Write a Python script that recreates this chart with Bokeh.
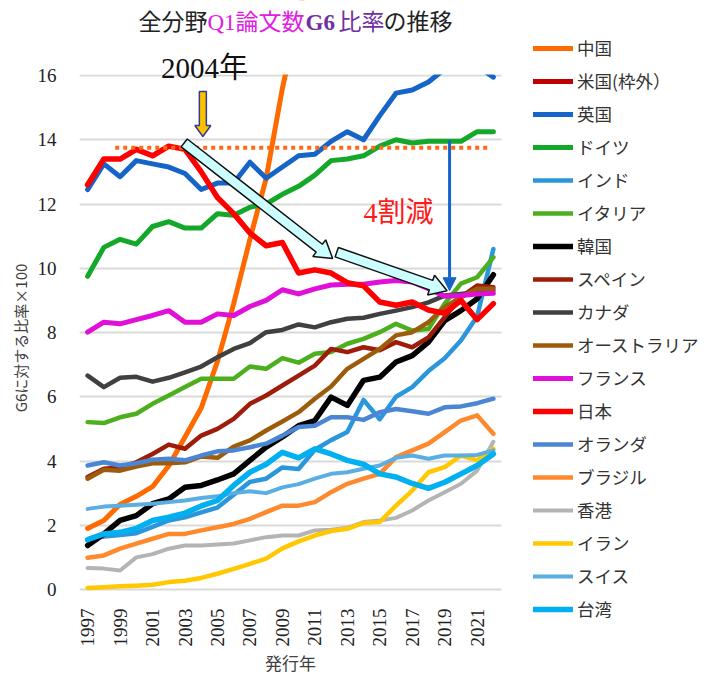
import math
from bokeh.plotting import figure
from bokeh.models import (Range1d, FixedTicker, Legend, LegendItem, Label, Arrow,
                          NormalHead, ColumnDataSource)
from bokeh.embed import file_html
from bokeh.resources import INLINE

NAN = float("nan")

years = list(range(1997, 2023))
tick_years = list(range(1997, 2022, 2))
y_ticks = list(range(0, 17, 2))

china = [1.9, 2.15, 2.65, 2.9, 3.2, 3.85, 4.75, 5.65, 7.1, 8.9, 10.9, 12.8, 15.6,
         17.9, 20.0, 22.5, 25.0, 27.5, 30.5, 33.5, 37.0, 41.0, 46.0, 51.0, 56.0, 60.0]
usa = [NAN] * len(years)  # 枠外 (off the chart)
uk = [12.45, 13.25, 12.85, 13.35, 13.25, 13.15, 12.95, 12.45, 12.65, 12.65, 13.3, 12.8, 13.15,
      13.5, 13.55, 13.95, 14.25, 14.0, 14.75, 15.45, 15.55, 15.8, 16.2, 16.35, 16.3, 15.95]
germany = [9.75, 10.65, 10.9, 10.75, 11.3, 11.45, 11.25, 11.25, 11.7, 11.65, 11.9, 12.0, 12.3,
           12.55, 12.9, 13.35, 13.4, 13.5, 13.8, 14.0, 13.9, 13.95, 13.95, 13.95, 14.25, 14.25]
india = [1.55, 1.65, 1.7, 1.75, 1.95, 2.15, 2.25, 2.4, 2.55, 2.95, 3.35, 3.45, 3.8,
         3.75, 4.35, 4.65, 4.9, 5.9, 5.3, 6.0, 6.3, 6.8, 7.2, 7.75, 8.5, 10.6]
italy = [5.21, 5.18, 5.36, 5.47, 5.78, 6.04, 6.3, 6.56, 6.56, 6.56, 6.94, 6.87, 7.2,
         7.06, 7.34, 7.39, 7.65, 7.8, 8.01, 8.27, 8.06, 8.11, 8.9, 9.52, 9.72, 10.34]
korea = [1.37, 1.73, 2.15, 2.3, 2.67, 2.82, 3.18, 3.24, 3.41, 3.6, 4.02, 4.43, 4.75,
         5.1, 5.26, 5.99, 5.73, 6.51, 6.61, 7.08, 7.28, 7.7, 8.37, 8.68, 9.05, 9.8]
spain = [3.5, 3.76, 3.8, 3.96, 4.22, 4.51, 4.38, 4.79, 5.0, 5.31, 5.78, 6.04, 6.35,
         6.66, 6.97, 7.49, 7.39, 7.54, 7.45, 7.7, 7.54, 7.85, 8.48, 9.1, 9.46, 9.41]
canada = [6.66, 6.3, 6.59, 6.62, 6.47, 6.59, 6.76, 6.94, 7.23, 7.49, 7.67, 8.01, 8.08,
          8.25, 8.16, 8.32, 8.43, 8.46, 8.58, 8.68, 8.79, 8.94, 9.15, 9.2, 9.26, 9.31]
australia = [3.45, 3.73, 3.7, 3.83, 3.93, 3.93, 3.96, 4.14, 4.1, 4.45, 4.64, 4.95, 5.23,
             5.52, 5.94, 6.32, 6.87, 7.18, 7.49, 7.91, 8.01, 8.32, 8.79, 9.1, 9.36, 9.36]
france = [8.01, 8.32, 8.27, 8.4, 8.53, 8.68, 8.32, 8.32, 8.58, 8.53, 8.81, 9.0, 9.33,
          9.2, 9.36, 9.48, 9.5, 9.5, 9.57, 9.62, 9.57, 9.36, 9.13, 9.15, 9.2, 9.22]
japan = [12.6, 13.4, 13.4, 13.7, 13.5, 13.8, 13.7, 13.0, 12.2, 11.7, 11.1, 10.7, 10.8,
         9.85, 9.95, 9.85, 9.55, 9.45, 8.95, 8.85, 8.95, 8.7, 8.6, 9.0, 8.4, 8.9]
netherlands = [3.86, 3.96, 3.86, 3.93, 4.04, 4.07, 4.02, 4.17, 4.3, 4.33, 4.43, 4.54, 4.79,
               5.06, 5.1, 5.36, 5.36, 5.28, 5.52, 5.62, 5.55, 5.47, 5.67, 5.7, 5.8, 5.94]
brazil = [0.99, 1.06, 1.27, 1.43, 1.58, 1.73, 1.73, 1.84, 1.94, 2.04, 2.2, 2.41, 2.61,
          2.61, 2.72, 3.03, 3.29, 3.45, 3.6, 4.12, 4.33, 4.54, 4.9, 5.26, 5.42, 4.85]
hongkong = [0.67, 0.65, 0.59, 1.0, 1.1, 1.27, 1.37, 1.37, 1.4, 1.43, 1.53, 1.63, 1.68,
            1.68, 1.84, 1.86, 1.92, 2.1, 2.15, 2.23, 2.46, 2.77, 3.03, 3.29, 3.7, 4.6]
iran = [0.05, 0.07, 0.1, 0.12, 0.15, 0.23, 0.27, 0.36, 0.49, 0.64, 0.8, 0.96, 1.28,
        1.5, 1.68, 1.82, 1.89, 2.07, 2.1, 2.61, 3.08, 3.65, 3.81, 4.17, 4.02, 4.38]
swiss = [2.51, 2.58, 2.61, 2.64, 2.67, 2.72, 2.77, 2.85, 2.9, 3.0, 3.06, 3.0, 3.18,
         3.28, 3.45, 3.6, 3.65, 3.76, 3.86, 4.1, 4.17, 4.07, 4.17, 4.17, 4.19, 4.33]
taiwan = [1.55, 1.73, 1.78, 1.9, 2.15, 2.25, 2.38, 2.6, 2.77, 3.24, 3.65, 3.9, 4.27,
          4.1, 4.38, 4.22, 4.02, 3.9, 3.6, 3.5, 3.3, 3.15, 3.34, 3.6, 3.86, 4.22]

series_names = ["中国", "米国(枠外）", "英国", "ドイツ", "インド", "イタリア", "韓国", "スペイン",
                "カナダ", "オーストラリア", "フランス", "日本", "オランダ", "ブラジル", "香港",
                "イラン", "スイス", "台湾"]
series_values = [china, usa, uk, germany, india, italy, korea, spain, canada, australia,
                 france, japan, netherlands, brazil, hongkong, iran, swiss, taiwan]
series_colors = ["#ff6a00", "#c00000", "#1565c8", "#14a82a", "#2b96dc", "#4caf1e", "#000000",
                 "#9e1d0a", "#404040", "#9c5c0c", "#e010d8", "#ff0000", "#4a86d4", "#ff8a2e",
                 "#b4b4b4", "#ffc800", "#5aaee2", "#00b0f0"]
series_widths = [5, 5, 5, 5, 4.5, 4.5, 5.5, 4.5, 4.5, 4.5, 5, 5.5, 4.5, 4.5, 4, 4.5, 4, 5.5]

reference_level = 13.75  # dotted reference line (Japan's 2004 level)
y_top = 16               # top of the value window

# ---- geometry (canvas px) ----
W, H = 708, 675
PL, PR, PT, PB = 79, 501, 75, 589     # plotting window of the chart
X0 = 1996.5
SX = (PR - PL) / 26.0                 # px per year
SY = (PB - PT) / float(y_top)         # px per unit
FX1 = X0 + (W - PL) / SX              # frame right (data)
FY0 = -(H - PB) / SY                  # frame bottom (data)
FY1 = PB / SY                         # frame top (data)
XW1 = X0 + 26.0                       # right end of the plotting window


def px(pxx, pyy):
    return X0 + (pxx - PL) / SX, (PB - pyy) / SY


p = figure(width=W, height=H, output_backend="svg", toolbar_location=None,
           x_range=Range1d(X0, FX1), y_range=Range1d(FY0, FY1),
           min_border_left=PL, min_border_right=0, min_border_top=0, min_border_bottom=0)
p.outline_line_color = None
p.background_fill_color = "white"
p.border_fill_color = "white"
p.xgrid.grid_line_color = None
p.ygrid.grid_line_color = "#d9d9d9"
p.ygrid.grid_line_width = 2
p.yaxis.ticker = FixedTicker(ticks=y_ticks)
p.xaxis.ticker = FixedTicker(ticks=tick_years)
p.xaxis.fixed_location = 0
for ax in (p.xaxis[0], p.yaxis[0]):
    ax.axis_line_color = None
    ax.major_tick_line_color = None
    ax.minor_tick_line_color = None
    ax.major_label_text_font = "Liberation Serif"
    ax.major_label_text_font_size = "19px"
    ax.major_label_text_color = "#222222"
    ax.axis_label_text_font = "Noto Sans CJK JP"
    ax.axis_label_text_font_style = "normal"
    ax.axis_label_text_color = "#404040"
p.xaxis.major_label_orientation = math.pi / 2
p.xaxis.major_label_standoff = 13
p.yaxis.major_label_standoff = 17
p.yaxis.axis_label = "G6に対する比率×100"
p.yaxis.axis_label_text_font_size = "15px"
p.yaxis.axis_label_standoff = 4

renderers = []
for name, vals, col, lw in zip(series_names, series_values, series_colors, series_widths):
    src = ColumnDataSource(dict(x=years, y=vals))
    r = p.line("x", "y", source=src, line_color=col, line_width=lw,
               line_join="round", line_cap="round")
    renderers.append((name, r))

# white masks: keep the chart window at 0..16 and the grid inside the window
p.quad(left=[X0 - 1], right=[XW1], bottom=[y_top + 1.0 / SY], top=[FY1 + 1],
       fill_color="white", line_color=None)
p.quad(left=[XW1], right=[FX1 + 1], bottom=[FY0 - 1], top=[FY1 + 1],
       fill_color="white", line_color=None)

# dotted reference line
p.segment(x0=[1998.7], y0=[reference_level], x1=[2021.7], y1=[reference_level],
          line_color="#ff6a1a", line_width=4, line_dash="4 4")


def block_arrow(xa, ya, xb, yb, shaft, head_w, head_l):
    ax_, ay_ = xa * SX, ya * SY
    bx_, by_ = xb * SX, yb * SY
    dx, dy = bx_ - ax_, by_ - ay_
    L = math.hypot(dx, dy)
    ux, uy = dx / L, dy / L
    nx, ny = -uy, ux
    hx, hy = bx_ - ux * head_l, by_ - uy * head_l
    pts = [(ax_ + nx * shaft / 2, ay_ + ny * shaft / 2),
           (hx + nx * shaft / 2, hy + ny * shaft / 2),
           (hx + nx * head_w / 2, hy + ny * head_w / 2),
           (bx_, by_),
           (hx - nx * head_w / 2, hy - ny * head_w / 2),
           (hx - nx * shaft / 2, hy - ny * shaft / 2),
           (ax_ - nx * shaft / 2, ay_ - ny * shaft / 2)]
    return [q[0] / SX for q in pts], [q[1] / SY for q in pts]


# yellow down arrow at 2004
xs, ys = block_arrow(2004.1, 15.5, 2004.1, 14.1, 7, 16, 11)
p.patch(xs, ys, fill_color="#ffc000", line_color="#2f3f8f", line_width=1.5)
# cyan block arrows
xs, ys = block_arrow(2002.95, 13.9, 2012.1, 10.3, 10, 21, 17)
p.patch(xs, ys, fill_color="#ccffff", line_color="#111111", line_width=1.5)
xs, ys = block_arrow(2012.35, 10.5, 2019.15, 9.3, 10, 21, 17)
p.patch(xs, ys, fill_color="#ccffff", line_color="#111111", line_width=1.5)
# blue vertical arrow
p.add_layout(Arrow(x_start=2019.3, y_start=13.98, x_end=2019.3, y_end=9.3,
                   line_color="#1565c8", line_width=3,
                   end=NormalHead(size=13, fill_color="#1565c8", line_color="#1565c8")))

serif_cjk = "Liberation Serif, Noto Sans CJK JP"
lx, ly = px(398, 212)
p.add_layout(Label(x=lx, y=ly, text="4割減", text_font=serif_cjk,
                   text_font_size="28px", text_align="center",
                   text_baseline="middle", text_color="#ff1a1a"))
lx, ly = px(204, 67)
p.add_layout(Label(x=lx, y=ly, text="2004年", text_font=serif_cjk,
                   text_font_size="29px", text_align="center", text_baseline="middle",
                   text_color="#111111"))
lx, ly = px(290, 662)
p.add_layout(Label(x=lx, y=ly, text="発行年", text_font="Noto Sans CJK JP",
                   text_font_size="17px", text_align="center", text_baseline="middle",
                   text_color="#404040"))

title_parts = [("全分野", "#222222", "normal", 138), ("Q1論文数", "#e020e0", "normal", 207),
               ("G6", "#7030a0", "bold", 305), ("比率", "#7030a0", "normal", 338),
               ("の推移", "#222222", "normal", 383)]
for txt, col, sty, tpx in title_parts:
    tx, ty = px(tpx, 22)
    p.add_layout(Label(x=tx, y=ty, text=txt, text_font=serif_cjk,
                       text_font_size="23px", text_font_style=sty, text_color=col,
                       text_align="left", text_baseline="middle"))

legend = Legend(items=[LegendItem(label=n, renderers=[r]) for n, r in renderers],
                location=(533 - PL, 54),
                label_text_font="Noto Sans CJK JP", label_text_font_size="17.5px",
                label_text_color="#333333", glyph_width=40, glyph_height=22,
                label_height=22, label_standoff=4, spacing=8, padding=0, margin=0,
                border_line_color=None, background_fill_alpha=0)
p.add_layout(legend)

open("out.html", "w").write(file_html(p, INLINE))
